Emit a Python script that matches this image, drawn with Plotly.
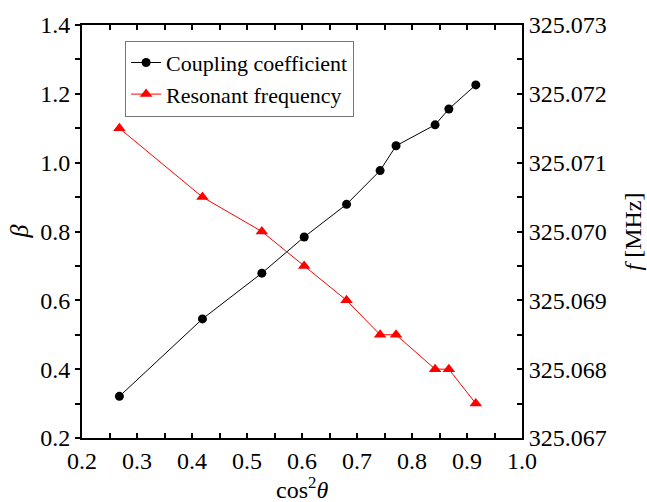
import plotly.graph_objects as go

cos2_theta = [0.268, 0.419, 0.527, 0.604, 0.681, 0.742, 0.771, 0.842, 0.867, 0.916]
beta = [0.321, 0.546, 0.679, 0.784, 0.879, 0.977, 1.049, 1.110, 1.156, 1.226]
freq_mhz = [325.0715, 325.0705, 325.0700, 325.0695, 325.0690, 325.0685, 325.0685,
            325.0680, 325.0680, 325.0675]

FONT = "Liberation Serif"

fig = go.Figure()
fig.add_trace(go.Scatter(
    x=cos2_theta, y=beta, mode="lines+markers", name="Coupling coefficient",
    line=dict(color="black", width=1), marker=dict(symbol="circle", size=9, color="black"),
    yaxis="y"))
fig.add_trace(go.Scatter(
    x=cos2_theta, y=freq_mhz, mode="lines+markers", name="Resonant frequency",
    line=dict(color="red", width=1), marker=dict(symbol="triangle-up", size=11, color="red"),
    yaxis="y2"))

axis_common = dict(showgrid=False, zeroline=False, showline=True, linecolor="black",
                   linewidth=1.8, tickcolor="black", tickwidth=1.5,
                   tickfont=dict(family=FONT, size=24, color="black"))

fig.update_layout(
    width=647, height=502,
    margin=dict(l=82, r=125, t=21, b=64),
    paper_bgcolor="white", plot_bgcolor="white",
    showlegend=True,
    legend=dict(x=0.098, y=0.962, xanchor="left", yanchor="top",
                bgcolor="white", bordercolor="#777777", borderwidth=1,
                font=dict(family=FONT, size=22, color="black"),
                tracegroupgap=0, itemsizing="trace"),
    xaxis=dict(range=[0.2, 1.0], dtick=0.1, tick0=0.2, tickformat=".1f",
               ticks="inside", ticklen=5, mirror="ticks",
               minor=dict(dtick=0.05, ticks="inside", ticklen=5, tickcolor="black", tickwidth=1.5),
               **axis_common),
    yaxis=dict(range=[0.2, 1.4], dtick=0.2, tick0=0.2, tickformat=".1f",
               ticks="outside", ticklen=5,
               minor=dict(dtick=0.1, ticks="outside", ticklen=5, tickcolor="black", tickwidth=1.5),
               **axis_common),
    yaxis2=dict(range=[325.067, 325.073], dtick=0.001, tick0=325.067, tickformat=".3f",
                overlaying="y", side="right", ticks="inside", ticklen=5,
                minor=dict(dtick=0.0005, ticks="inside", ticklen=5, tickcolor="black", tickwidth=1.5),
                **axis_common),
    annotations=[
        dict(text="cos<sup>2</sup><i>θ</i>", x=0.5, y=-0.12, xref="paper", yref="paper",
             xanchor="center", yanchor="middle", showarrow=False,
             font=dict(family=FONT, size=24, color="black")),
        dict(text="<i>β</i>", x=-0.141, y=0.5, xref="paper", yref="paper",
             xanchor="center", yanchor="middle", showarrow=False, textangle=-90,
             font=dict(family=FONT, size=26, color="black")),
        dict(text="<i>f</i> [MHz]", x=1.25, y=0.5, xref="paper", yref="paper",
             xanchor="center", yanchor="middle", showarrow=False, textangle=-90,
             font=dict(family=FONT, size=24, color="black")),
    ],
)

fig.write_html("out.html", config={"displayModeBar": False},
               post_script="document.body.style.margin='0px';document.body.style.overflow='hidden';")
